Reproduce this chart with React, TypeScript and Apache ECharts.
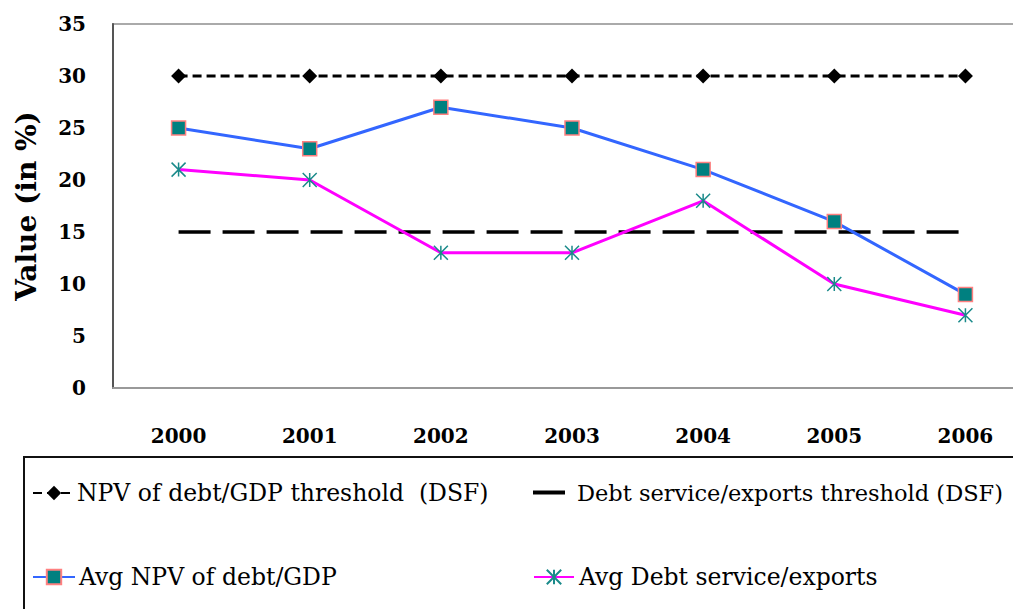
import React, { useEffect, useRef } from "react";
import * as echarts from "echarts";

const years = ["2000", "2001", "2002", "2003", "2004", "2005", "2006"];
const npvThreshold = [30, 30, 30, 30, 30, 30, 30];
const dsThreshold = [15, 15, 15, 15, 15, 15, 15];
const avgNpv = [25, 23, 27, 25, 21, 16, 9];
const avgDs = [21, 20, 13, 13, 18, 10, 7];

const names = [
  "NPV of debt/GDP threshold  (DSF)",
  "Debt service/exports threshold (DSF)",
  "Avg NPV of debt/GDP",
  "Avg Debt service/exports",
];

const FONT = "DejaVu Serif";

export default function App() {
  const ref = useRef<HTMLDivElement>(null);
  useEffect(() => {
    document.body.style.margin = "0";
    const chart = echarts.init(ref.current!, null, { renderer: "svg" });
    const mkLegend = (item: any, left: number, top: number, w: number, h: number, gap: number, fs: number) => ({
      data: [item],
      left,
      top,
      padding: 0,
      itemWidth: w,
      itemHeight: h,
      itemGap: 0,
      textStyle: { fontFamily: FONT, fontSize: fs, color: "#000", padding: [0, 0, 0, gap - 5] },
      selectedMode: false,
    });
    chart.setOption({
      animation: false,
      backgroundColor: "#fff",
      grid: {
        left: 113,
        top: 24,
        right: -18,
        bottom: 221,
        show: true,
        borderColor: "#aaa",
        borderWidth: 2,
        outerBoundsMode: "none",
        containLabel: false,
      },
      xAxis: {
        type: "category",
        data: years,
        boundaryGap: true,
        axisLine: { lineStyle: { color: "#999", width: 2 } },
        axisTick: { show: false },
        axisLabel: { fontFamily: FONT, fontWeight: "bold", fontSize: 20, color: "#000", margin: 38 },
      },
      yAxis: {
        type: "value",
        min: 0,
        max: 35,
        interval: 5,
        splitLine: { show: false },
        axisLine: { show: true, lineStyle: { color: "#555", width: 2 } },
        axisTick: { show: false },
        axisLabel: { fontFamily: FONT, fontWeight: "bold", fontSize: 20, color: "#000", margin: 27 },
        name: "Value (in %)",
        nameLocation: "middle",
        nameGap: 73,
        nameTextStyle: { fontFamily: FONT, fontWeight: "bold", fontSize: 28, color: "#000" },
      },
      legend: [
        mkLegend(names[0], 32, 481, 42, 18, 2, 23.5),
        mkLegend({ name: names[1], icon: "rect", itemStyle: { color: "#000" } }, 533, 481, 32, 4, 12, 22.5),
        mkLegend(names[2], 32, 565, 42, 18, 4, 23.5),
        mkLegend(names[3], 533, 565, 40, 18, 5, 23.5),
      ],
      graphic: [
        {
          type: "rect",
          shape: { x: 24, y: 457, width: 1200, height: 400 },
          style: { fill: "none", stroke: "#111", lineWidth: 2 },
          silent: true,
        },
      ],
      series: [
        {
          name: names[0],
          type: "line",
          data: npvThreshold,
          symbol: "diamond",
          symbolSize: 15,
          itemStyle: { color: "#000" },
          lineStyle: { color: "#000", width: 3, type: [9, 5] },
          z: 3,
        },
        {
          name: names[1],
          type: "line",
          data: dsThreshold,
          symbol: "none",
          itemStyle: { color: "#000" },
          lineStyle: { color: "#000", width: 3.5, type: [32, 12] },
          z: 2,
        },
        {
          name: names[2],
          type: "line",
          data: avgNpv,
          symbol: "rect",
          symbolSize: 14,
          itemStyle: { color: "#008080", borderColor: "#FF8080", borderWidth: 1.5 },
          lineStyle: { color: "#3366FF", width: 3 },
          z: 4,
        },
        {
          name: names[3],
          type: "line",
          data: avgDs,
          symbol: "path://M0,0 L10,10 M0,10 L10,0 M5,0 L5,10",
          symbolSize: 14,
          itemStyle: { color: "transparent", borderColor: "#1A8A8A", borderWidth: 1.5 },
          lineStyle: { color: "#FF00FF", width: 3 },
          z: 5,
        },
      ],
    });
    return () => chart.dispose();
  }, []);
  return <div ref={ref} style={{ width: 1013, height: 609 }} />;
}
